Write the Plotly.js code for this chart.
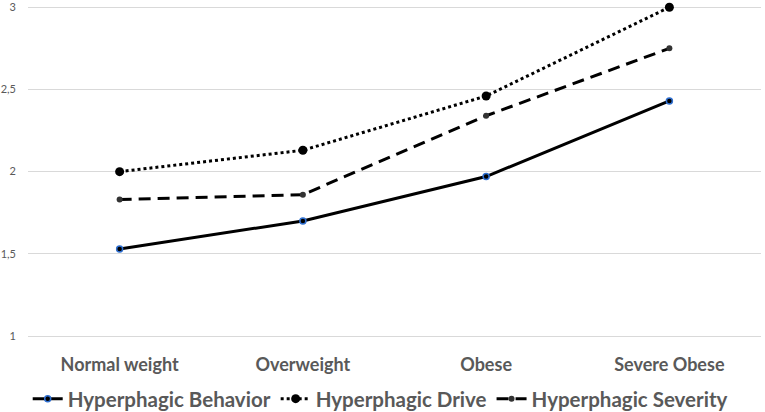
<!DOCTYPE html>
<html>
<head>
<meta charset="utf-8">
<script src="https://cdn.plot.ly/plotly-3.0.1.min.js"></script>
<style>
  html, body { margin: 0; padding: 0; background: #fff; }
  #chart { width: 765px; height: 412px; }
</style>
</head>
<body>
<div id="chart"></div>
<script>
  var categories = ['Normal weight', 'Overweight', 'Obese', 'Severe Obese'];
  var behavior = [1.53, 1.70, 1.97, 2.43];
  var drive = [2.00, 2.13, 2.46, 3.00];
  var severity = [1.83, 1.86, 2.34, 2.75];
  var yTicks = [1, 1.5, 2, 2.5, 3];

  var font = 'Lato, "Open Sans", sans-serif';

  var traces = [
    {
      x: categories, y: behavior, name: 'Hyperphagic Behavior',
      type: 'scatter', mode: 'lines+markers',
      line: { color: '#000', width: 3 },
      marker: { color: '#000', size: 6, line: { color: '#2f6fd0', width: 1.5 } }
    },
    {
      x: categories, y: drive, name: 'Hyperphagic Drive',
      type: 'scatter', mode: 'lines+markers',
      line: { color: '#000', width: 3, dash: 'dot' },
      marker: { color: '#000', size: 9 }
    },
    {
      x: categories, y: severity, name: 'Hyperphagic Severity',
      type: 'scatter', mode: 'lines+markers',
      line: { color: '#000', width: 3, dash: '12px,7px' },
      marker: { color: '#333', size: 6 }
    }
  ];

  var layout = {
    width: 765, height: 412,
    margin: { t: 0, b: 74, l: 28, r: 4 },
    paper_bgcolor: '#fff', plot_bgcolor: '#fff',
    separators: ', ',
    showlegend: true,
    legend: {
      orientation: 'h', xref: 'container', yref: 'container',
      x: 0.497, xanchor: 'center', y: 0.032, yanchor: 'middle',
      font: { family: font, size: 20.5, color: '#595959', weight: 'bold' },
      itemwidth: 30, tracegroupgap: 0
    },
    xaxis: {
      type: 'category', range: [-0.5, 3.5], showgrid: false, zeroline: false, showline: false,
      ticks: '', automargin: false, ticklabelstandoff: 14,
      tickfont: { family: font, size: 18, color: '#595959', weight: 'bold' }
    },
    yaxis: {
      range: [0.988, 3.044], tickmode: 'array', tickvals: yTicks,
      ticktext: yTicks.map(function (v) { return String(v).replace('.', ','); }),
      showline: false, zeroline: false,
      gridcolor: '#d9d9d9', gridwidth: 1, ticks: '', ticklabelstandoff: 11, automargin: false,
      tickfont: { family: font, size: 11, color: '#595959' }
    }
  };

  traces.forEach(function (t) { t.cliponaxis = false; });

  Plotly.newPlot('chart', traces, layout, { displayModeBar: false, staticPlot: true });
</script>
</body>
</html>
